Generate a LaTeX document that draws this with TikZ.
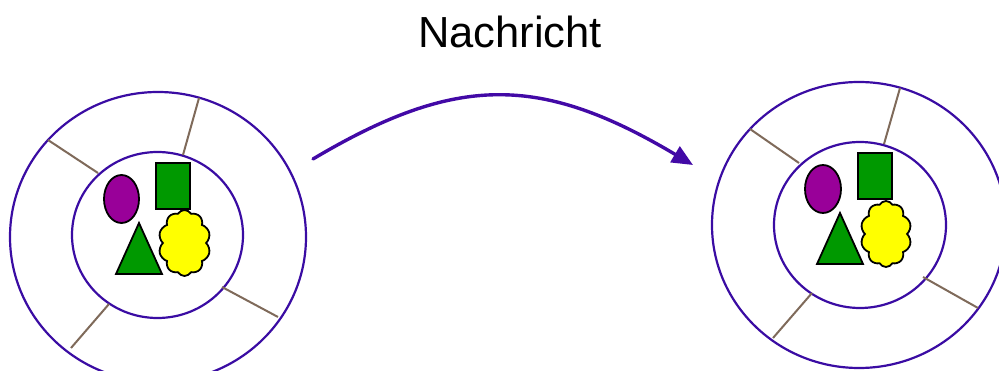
\documentclass[tikz,border=0pt]{standalone}
\usepackage{fontspec}
\setmainfont{Liberation Sans}
\usetikzlibrary{shapes.geometric,shapes.symbols,arrows.meta}
\definecolor{ringcol}{HTML}{3A0CA3}
\definecolor{arrcol}{HTML}{4209A6}
\definecolor{spokecol}{HTML}{7F6A5A}
\definecolor{shapegreen}{HTML}{009900}
\definecolor{shapepurple}{HTML}{990099}
\definecolor{shapeyellow}{HTML}{FFFF00}
\tikzset{
  ring/.style={draw=ringcol,line width=2.2pt},
  spoke/.style={draw=spokecol,line width=2pt},
  blob/.style={draw=black,line width=1.8pt},
}
\begin{document}
\begin{tikzpicture}[x=1pt,y=-1pt]
\useasboundingbox (0,0) rectangle (999,371);
\node[font=\fontsize{43.5}{50}\selectfont,anchor=base] (title) at (510,48) {Nachricht};
% left group
\node[ring,ellipse,minimum width=296pt,minimum height=290pt,inner sep=0pt] (lo) at (158,237) {};
\node[ring,ellipse,minimum width=171pt,minimum height=166pt,inner sep=0pt] (li) at (157.5,235) {};
\coordinate (ls1a) at (48,140); \coordinate (ls1b) at (98,173);
\coordinate (ls2a) at (199,98); \coordinate (ls2b) at (183,155);
\coordinate (ls3a) at (222,287); \coordinate (ls3b) at (278,317);
\coordinate (ls4a) at (109,304); \coordinate (ls4b) at (71,348);
\draw[spoke] (ls1a) -- (ls1b);
\draw[spoke] (ls2a) -- (ls2b);
\draw[spoke] (ls3a) -- (ls3b);
\draw[spoke] (ls4a) -- (ls4b);
\node[blob,fill=shapepurple,ellipse,minimum width=35pt,minimum height=48pt,inner sep=0pt] (lell) at (121.5,199) {};
\filldraw[blob,fill=shapegreen] (156,163) rectangle (190,209);
\filldraw[blob,fill=shapegreen] (139,223) -- (162,274) -- (116,274) -- cycle;
\node[blob,fill=shapeyellow,cloud,cloud puffs=10,cloud puff arc=120,aspect=0.75,minimum width=52pt,minimum height=66pt,inner sep=0pt] (lcl) at (184.5,243) {};
% right group
\node[ring,ellipse,minimum width=294pt,minimum height=286pt,inner sep=0pt] (ro) at (859,225) {};
\node[ring,ellipse,minimum width=172pt,minimum height=166pt,inner sep=0pt] (ri) at (860,225) {};
\coordinate (rs1a) at (750,129); \coordinate (rs1b) at (799,163);
\coordinate (rs2a) at (900,88); \coordinate (rs2b) at (884,144);
\coordinate (rs3a) at (923,277); \coordinate (rs3b) at (978,308);
\coordinate (rs4a) at (812,293); \coordinate (rs4b) at (773,338);
\draw[spoke] (rs1a) -- (rs1b);
\draw[spoke] (rs2a) -- (rs2b);
\draw[spoke] (rs3a) -- (rs3b);
\draw[spoke] (rs4a) -- (rs4b);
\node[blob,fill=shapepurple,ellipse,minimum width=36pt,minimum height=48pt,inner sep=0pt] (rell) at (823,189) {};
\filldraw[blob,fill=shapegreen] (858,153) rectangle (892,199);
\filldraw[blob,fill=shapegreen] (840,213) -- (863,264) -- (817,264) -- cycle;
\node[blob,fill=shapeyellow,cloud,cloud puffs=10,cloud puff arc=120,aspect=0.75,minimum width=51pt,minimum height=66pt,inner sep=0pt] (rcl) at (886,234) {};
% arrow
\coordinate (as) at (313,159);
\coordinate (ae) at (693,165);
\draw[arrcol,line width=3.4pt,line cap=round,-{Triangle[length=21pt,width=18pt]}] (as) .. controls (456,74) and (540,74) .. (ae);
\end{tikzpicture}
\end{document}
